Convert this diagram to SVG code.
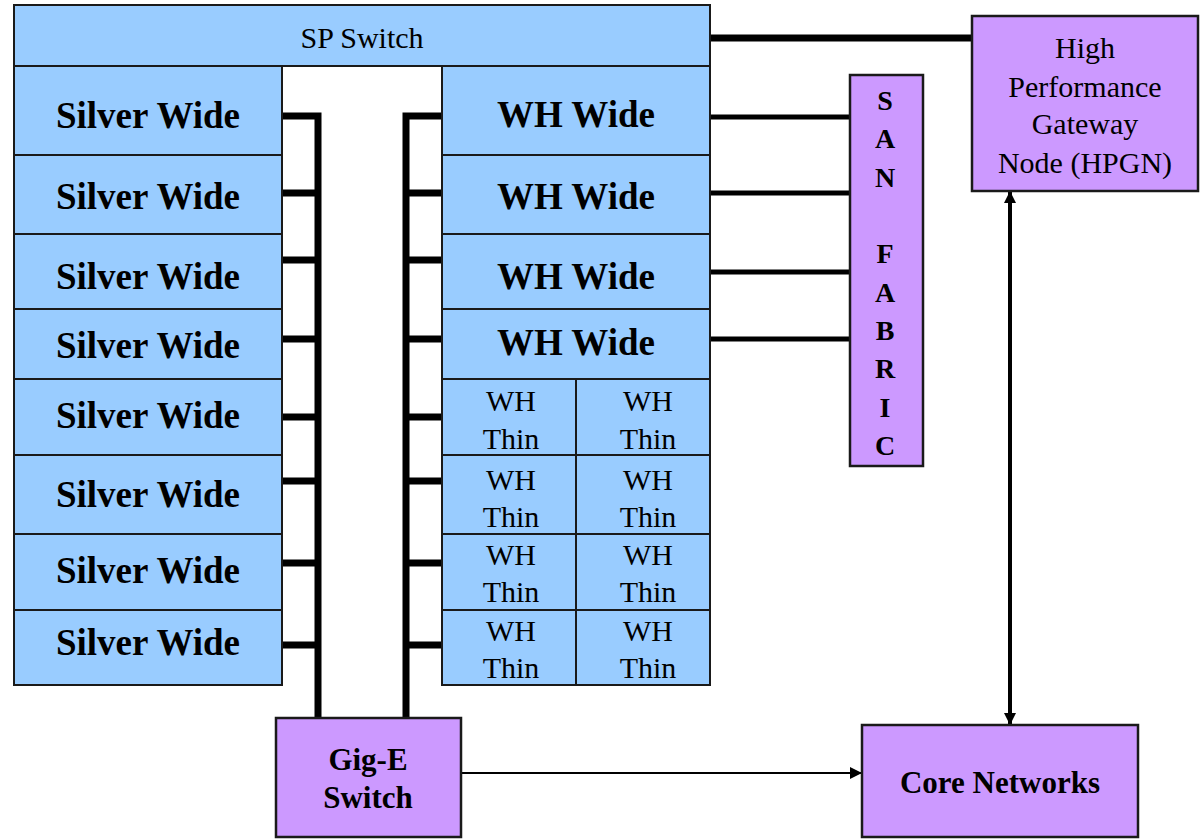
<svg xmlns="http://www.w3.org/2000/svg" width="1201" height="839" viewBox="0 0 1201 839">
<style>
.b{fill:#99ccff;stroke:#1a1a1a;stroke-width:2}
.p{fill:#cc99ff;stroke:#1a1a1a;stroke-width:2.5}
text{font-family:"Liberation Serif","Times New Roman",serif;fill:#000;text-anchor:middle}
.wide{font-size:37px;font-weight:bold}
.reg{font-size:30px}
.bold{font-size:31px;font-weight:bold}
.san{font-size:28px;font-weight:bold}
.thick{stroke:#000;stroke-width:7;fill:none}
.mid{stroke:#000;stroke-width:5;fill:none}
.thin{stroke:#000;stroke-width:2;fill:none}
</style>
<defs>
<marker id="ah" markerWidth="10" markerHeight="10" refX="9" refY="5" orient="auto" markerUnits="userSpaceOnUse" viewBox="0 0 10 10">
<path d="M0,0 L10,5 L0,10 z" fill="#000"/>
</marker>
<marker id="ah2" markerWidth="12" markerHeight="14" refX="11" refY="6" orient="auto-start-reverse" markerUnits="userSpaceOnUse" viewBox="0 0 12 12">
<path d="M0,0 L12,6 L0,12 z" fill="#000"/>
</marker>
</defs>

<g id="connectors">
<!-- left ladder -->
<path class="thick" d="M282,116 H318 V718 M282,193 H318 M282,260 H318 M282,339 H318 M282,417 H318 M282,481 H318 M282,563 H318 M282,645 H318"/>
<!-- right ladder -->
<path class="thick" d="M442,116 H406 V718 M442,193 H406 M442,260 H406 M442,339 H406 M442,417 H406 M442,481 H406 M442,563 H406 M442,645 H406"/>
<!-- WH Wide to SAN -->
<path class="mid" d="M710,117 H850 M710,193 H850 M710,272 H850 M710,339 H850"/>
<!-- SP Switch to HPGN -->
<path class="thick" d="M710,38 H972"/>
<!-- HPGN <-> Core -->
<line x1="1010" y1="192" x2="1010" y2="724" stroke="#000" stroke-width="4" marker-start="url(#ah2)" marker-end="url(#ah2)"/>
<!-- Gig-E -> Core -->
<line x1="461" y1="773" x2="861" y2="773" class="thin" marker-end="url(#ah2)"/>
</g>

<g id="sp-switch">
<rect class="b" x="14" y="5" width="696" height="61"/>
<text class="reg" x="362" y="48">SP Switch</text>
</g>

<g id="silver-wide">
<rect class="b" x="14" y="66" width="268" height="89"/>
<rect class="b" x="14" y="155" width="268" height="79"/>
<rect class="b" x="14" y="234" width="268" height="75"/>
<rect class="b" x="14" y="309" width="268" height="70"/>
<rect class="b" x="14" y="379" width="268" height="76"/>
<rect class="b" x="14" y="455" width="268" height="79"/>
<rect class="b" x="14" y="534" width="268" height="76"/>
<rect class="b" x="14" y="610" width="268" height="75"/>
<text class="wide" x="148" y="128">Silver Wide</text>
<text class="wide" x="148" y="209">Silver Wide</text>
<text class="wide" x="148" y="289">Silver Wide</text>
<text class="wide" x="148" y="358">Silver Wide</text>
<text class="wide" x="148" y="428">Silver Wide</text>
<text class="wide" x="148" y="507">Silver Wide</text>
<text class="wide" x="148" y="583">Silver Wide</text>
<text class="wide" x="148" y="655">Silver Wide</text>
</g>

<g id="wh-wide">
<rect class="b" x="442" y="66" width="268" height="89"/>
<rect class="b" x="442" y="155" width="268" height="79"/>
<rect class="b" x="442" y="234" width="268" height="75"/>
<rect class="b" x="442" y="309" width="268" height="70"/>
<text class="wide" x="576" y="127">WH Wide</text>
<text class="wide" x="576" y="209">WH Wide</text>
<text class="wide" x="576" y="289">WH Wide</text>
<text class="wide" x="576" y="355">WH Wide</text>
</g>

<g id="wh-thin">
<rect class="b" x="442" y="379" width="134" height="76"/>
<rect class="b" x="576" y="379" width="134" height="76"/>
<rect class="b" x="442" y="455" width="134" height="79"/>
<rect class="b" x="576" y="455" width="134" height="79"/>
<rect class="b" x="442" y="534" width="134" height="76"/>
<rect class="b" x="576" y="534" width="134" height="76"/>
<rect class="b" x="442" y="610" width="134" height="75"/>
<rect class="b" x="576" y="610" width="134" height="75"/>
<text class="reg" x="511" y="411">WH</text><text class="reg" x="511" y="449">Thin</text>
<text class="reg" x="648" y="411">WH</text><text class="reg" x="648" y="449">Thin</text>
<text class="reg" x="511" y="490">WH</text><text class="reg" x="511" y="527">Thin</text>
<text class="reg" x="648" y="490">WH</text><text class="reg" x="648" y="527">Thin</text>
<text class="reg" x="511" y="565">WH</text><text class="reg" x="511" y="602">Thin</text>
<text class="reg" x="648" y="565">WH</text><text class="reg" x="648" y="602">Thin</text>
<text class="reg" x="511" y="641">WH</text><text class="reg" x="511" y="678">Thin</text>
<text class="reg" x="648" y="641">WH</text><text class="reg" x="648" y="678">Thin</text>
</g>

<g id="san-fabric">
<rect class="p" x="850" y="75" width="73" height="391"/>
<text class="san" x="885" y="110">S</text>
<text class="san" x="885" y="148">A</text>
<text class="san" x="885" y="187">N</text>
<text class="san" x="885" y="263">F</text>
<text class="san" x="885" y="302">A</text>
<text class="san" x="885" y="340">B</text>
<text class="san" x="885" y="378">R</text>
<text class="san" x="885" y="417">I</text>
<text class="san" x="885" y="455">C</text>
</g>

<g id="hpgn">
<rect class="p" x="972" y="16" width="226" height="175"/>
<text class="reg" x="1085" y="58">High</text>
<text class="reg" x="1085" y="97">Performance</text>
<text class="reg" x="1085" y="134">Gateway</text>
<text class="reg" x="1085" y="173">Node (HPGN)</text>
</g>

<g id="gig-e-switch">
<rect class="p" x="276" y="718" width="185" height="119"/>
<text class="bold" x="368" y="770">Gig-E</text>
<text class="bold" x="368" y="808">Switch</text>
</g>

<g id="core-networks">
<rect class="p" x="862" y="725" width="276" height="112"/>
<text class="bold" x="1000" y="793">Core Networks</text>
</g>
</svg>
